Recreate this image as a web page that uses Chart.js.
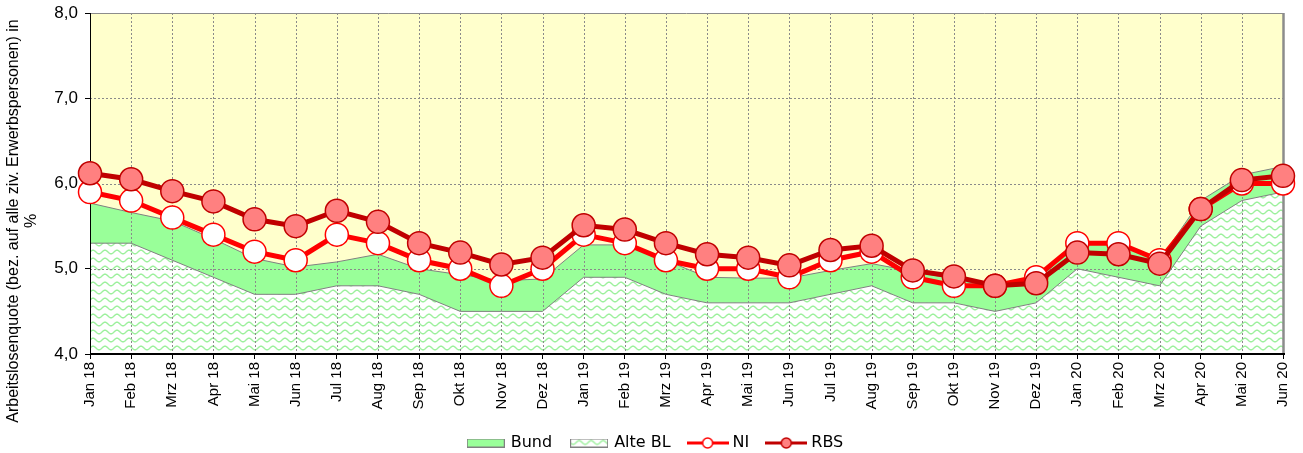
<!DOCTYPE html>
<html lang="de">
<head>
<meta charset="utf-8">
<title>Arbeitslosenquote</title>
<script src="https://cdn.jsdelivr.net/npm/chart.js@4.4.1/dist/chart.umd.min.js"></script>
<style>
  html, body { margin: 0; padding: 0; background: #fff; }
  #chart { display: block; }
</style>
</head>
<body>
<canvas id="chart" width="1303" height="453"></canvas>
<script>
const months = ['Jan 18', 'Feb 18', 'Mrz 18', 'Apr 18', 'Mai 18', 'Jun 18', 'Jul 18', 'Aug 18', 'Sep 18', 'Okt 18', 'Nov 18', 'Dez 18',
  'Jan 19', 'Feb 19', 'Mrz 19', 'Apr 19', 'Mai 19', 'Jun 19', 'Jul 19', 'Aug 19', 'Sep 19', 'Okt 19', 'Nov 19', 'Dez 19',
  'Jan 20', 'Feb 20', 'Mrz 20', 'Apr 20', 'Mai 20', 'Jun 20'];
const bund = [5.77, 5.66, 5.56, 5.35, 5.12, 5.02, 5.08, 5.17, 5.00, 4.93, 4.86, 4.88,
  5.28, 5.28, 5.10, 4.90, 4.89, 4.89, 4.98, 5.06, 4.97, 4.88, 4.78, 4.85,
  5.30, 5.30, 5.10, 5.80, 6.10, 6.20];
const alteBL = [5.3, 5.3, 5.1, 4.9, 4.7, 4.7, 4.8, 4.8, 4.7, 4.5, 4.5, 4.5,
  4.9, 4.9, 4.7, 4.6, 4.6, 4.6, 4.7, 4.8, 4.6, 4.6, 4.5, 4.6,
  5.0, 4.9, 4.8, 5.5, 5.8, 5.9];
const ni = [5.9, 5.8, 5.6, 5.4, 5.2, 5.1, 5.4, 5.3, 5.1, 5.0, 4.8, 5.0,
  5.4, 5.3, 5.1, 5.0, 5.0, 4.9, 5.1, 5.2, 4.9, 4.8, 4.8, 4.9,
  5.3, 5.3, 5.1, 5.7, 6.0, 6.0];
const rbs = [6.12, 6.05, 5.91, 5.79, 5.58, 5.50, 5.68, 5.55, 5.30, 5.19, 5.05, 5.13,
  5.51, 5.46, 5.30, 5.17, 5.13, 5.04, 5.22, 5.27, 4.98, 4.91, 4.80, 4.83,
  5.19, 5.17, 5.06, 5.70, 6.04, 6.09];
const yMin = 4;
const yMax = 8;
const yTitle = ['Arbeitslosenquote (bez. auf alle ziv. Erwerbspersonen) in', '%'];

const GREEN = '#99FF99';
const NI_RED = '#FF0000';
const RBS_RED = '#C00000';
const RBS_FILL = '#FF8080';

// Excel-like wave pattern for "Alte BL"
function makeWavePattern() {
  const c = document.createElement('canvas');
  c.width = 12;
  c.height = 8;
  const g = c.getContext('2d');
  g.fillStyle = '#fff';
  g.fillRect(0, 0, 12, 8);
  g.strokeStyle = '#9CF09C';
  g.lineWidth = 1.4;
  g.beginPath();
  for (let x = -1; x <= 13; x += 0.5) {
    const y = 4 + 1.8 * Math.sin(2 * Math.PI * x / 12);
    if (x === -1) g.moveTo(x, y); else g.lineTo(x, y);
  }
  g.stroke();
  return g.createPattern(c, 'repeat');
}
const wave = makeWavePattern();

function boxIcon(fill) {
  const c = document.createElement('canvas');
  c.width = 38;
  c.height = 9;
  const g = c.getContext('2d');
  g.fillStyle = fill;
  g.fillRect(0, 0, 38, 9);
  g.strokeStyle = '#808080';
  g.lineWidth = 1;
  g.strokeRect(0.5, 0.5, 37, 8);
  return c;
}

function lineIcon(color, markerFill) {
  const c = document.createElement('canvas');
  c.width = 42;
  c.height = 14;
  const g = c.getContext('2d');
  g.strokeStyle = color;
  g.lineWidth = 3;
  g.beginPath();
  g.moveTo(0, 7);
  g.lineTo(42, 7);
  g.stroke();
  g.fillStyle = markerFill;
  g.lineWidth = 1.5;
  g.beginPath();
  g.arc(21, 7, 5, 0, Math.PI * 2);
  g.fill();
  g.stroke();
  return c;
}

const legendIcons = [boxIcon(GREEN), boxIcon(wave), lineIcon(NI_RED, '#fff'), lineIcon(RBS_RED, RBS_FILL)];

// background, dashed grid (above the areas, below the lines) and frame
const plotDecor = {
  id: 'plotDecor',
  beforeDraw(chart) {
    const a = chart.chartArea;
    const ctx = chart.ctx;
    ctx.save();
    ctx.fillStyle = '#FFFFCC';
    ctx.fillRect(a.left, a.top, a.right - a.left, a.bottom - a.top);
    ctx.restore();
  },
  afterDatasetDraw(chart, args) {
    if (args.index !== 1) return;
    const a = chart.chartArea;
    const ctx = chart.ctx;
    const xs = chart.scales.x;
    const ys = chart.scales.y;
    ctx.save();
    ctx.strokeStyle = '#8A8A8A';
    ctx.lineWidth = 1;
    ctx.setLineDash([2, 2]);
    ctx.beginPath();
    xs.ticks.forEach((t, i) => {
      if (i === 0 || i === xs.ticks.length - 1) return;
      const px = Math.round(xs.getPixelForTick(i)) + 0.5;
      ctx.moveTo(px, a.top);
      ctx.lineTo(px, a.bottom);
    });
    ys.ticks.forEach((t, i) => {
      if (t.value === yMin || t.value === yMax) return;
      const py = Math.round(ys.getPixelForTick(i)) + 0.5;
      ctx.moveTo(a.left, py);
      ctx.lineTo(a.right, py);
    });
    ctx.stroke();
    ctx.setLineDash([]);
    // top and right frame
    ctx.strokeStyle = '#8C8C8C';
    ctx.lineWidth = 1;
    ctx.beginPath();
    ctx.moveTo(a.left, a.top + 0.5);
    ctx.lineTo(a.right, a.top + 0.5);
    ctx.stroke();
    ctx.lineWidth = 2.5;
    ctx.beginPath();
    ctx.moveTo(a.right + 0.5, a.top);
    ctx.lineTo(a.right + 0.5, a.bottom);
    ctx.stroke();
    // axes
    ctx.strokeStyle = '#000';
    ctx.lineWidth = 1;
    ctx.beginPath();
    ctx.moveTo(a.left + 0.5, a.top);
    ctx.lineTo(a.left + 0.5, a.bottom + 1);
    ctx.stroke();
    ctx.lineWidth = 2;
    ctx.beginPath();
    ctx.moveTo(a.left, a.bottom);
    ctx.lineTo(a.right + 2, a.bottom);
    ctx.stroke();
    ctx.restore();
  },
  afterDraw(chart) {
    const ctx = chart.ctx;
    ctx.save();
    ctx.fillStyle = '#000';
    ctx.font = '16px "Liberation Sans", Arial, sans-serif';
    ctx.textAlign = 'center';
    ctx.textBaseline = 'middle';
    ctx.translate(0, 221);
    ctx.rotate(-Math.PI / 2);
    ctx.fillText(yTitle[0], 0, 14);
    ctx.fillText(yTitle[1], 0, 32);
    ctx.restore();
  }
};

new Chart(document.getElementById('chart'), {
  type: 'line',
  data: {
    labels: months,
    datasets: [{
      label: 'Bund',
      data: bund,
      order: 4,
      fill: 'start',
      backgroundColor: GREEN,
      borderColor: '#808080',
      borderWidth: 1,
      pointRadius: 0,
      tension: 0
    }, {
      label: 'Alte BL',
      data: alteBL,
      order: 3,
      fill: 'start',
      backgroundColor: wave,
      borderColor: '#808080',
      borderWidth: 1,
      pointRadius: 0,
      tension: 0
    }, {
      label: 'NI',
      data: ni,
      order: 2,
      fill: false,
      clip: false,
      borderColor: NI_RED,
      borderWidth: 5,
      pointRadius: 11.5,
      pointBorderWidth: 1.5,
      pointBackgroundColor: '#FFFFFF',
      pointBorderColor: NI_RED,
      tension: 0
    }, {
      label: 'RBS',
      data: rbs,
      order: 1,
      fill: false,
      clip: false,
      borderColor: RBS_RED,
      borderWidth: 5,
      pointRadius: 11.5,
      pointBorderWidth: 1.5,
      pointBackgroundColor: RBS_FILL,
      pointBorderColor: RBS_RED,
      tension: 0
    }]
  },
  options: {
    responsive: false,
    devicePixelRatio: 1,
    animation: false,
    events: [],
    layout: { padding: { left: 29, right: 20, top: 12, bottom: -8 } },
    scales: {
      x: {
        offset: false,
        border: { display: false },
        grid: { drawOnChartArea: false, drawTicks: true, tickLength: 5, tickColor: '#000', tickWidth: 1 },
        ticks: {
          autoSkip: false,
          minRotation: 90,
          maxRotation: 90,
          padding: 3,
          color: '#000',
          font: { family: 'Liberation Sans', size: 15 }
        },
        afterFit: s => {
          s.height = 61;
          s.paddingLeft = 0;
          s.paddingRight = 0;
        }
      },
      y: {
        min: yMin,
        max: yMax,
        border: { display: false },
        grid: { drawOnChartArea: false, drawTicks: true, tickLength: 5, tickColor: '#000', tickWidth: 1 },
        ticks: {
          stepSize: 1,
          padding: 7,
          color: '#000',
          font: { family: 'Liberation Sans', size: 17 },
          callback: v => v.toFixed(1).replace('.', ',')
        },
        afterFit: s => {
          s.width = 61;
          s.paddingTop = 0;
          s.paddingBottom = 0;
        }
      }
    },
    plugins: {
      tooltip: { enabled: false },
      legend: {
        position: 'bottom',
        labels: {
          usePointStyle: true,
          pointStyleWidth: 34,
          padding: 20,
          color: '#000',
          font: { family: 'DejaVu Sans', size: 16 },
          generateLabels: chart => chart.data.datasets.map((ds, i) => ({
            text: ds.label,
            pointStyle: legendIcons[i],
            datasetIndex: i,
            hidden: false,
            lineWidth: 0,
            fillStyle: 'transparent',
            strokeStyle: 'transparent'
          }))
        }
      }
    }
  },
  plugins: [plotDecor]
});
</script>
</body>
</html>
